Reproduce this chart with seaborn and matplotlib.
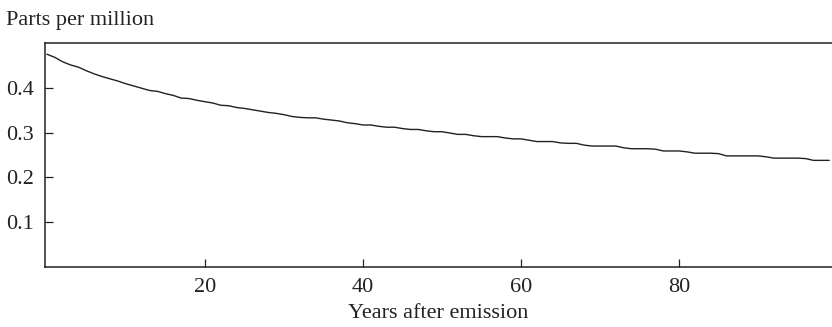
import numpy as np
import pandas as pd
import matplotlib
matplotlib.use("Agg")
import matplotlib.pyplot as plt
import seaborn as sns

# years after emission and concentration (ppm)
years = list(range(100))
ppm = [
    0.475, 0.468, 0.458, 0.451, 0.446, 0.438, 0.431, 0.425, 0.420, 0.415,
    0.409, 0.404, 0.399, 0.394, 0.392, 0.387, 0.383, 0.377, 0.376, 0.372,
    0.369, 0.366, 0.361, 0.360, 0.356, 0.354, 0.351, 0.348, 0.345, 0.343,
    0.340, 0.336, 0.334, 0.333, 0.333, 0.330, 0.328, 0.326, 0.322, 0.320,
    0.317, 0.317, 0.314, 0.312, 0.312, 0.309, 0.307, 0.307, 0.304, 0.302,
    0.302, 0.299, 0.296, 0.296, 0.293, 0.291, 0.291, 0.291, 0.288, 0.286,
    0.286, 0.283, 0.280, 0.280, 0.280, 0.277, 0.276, 0.276, 0.272, 0.270,
    0.270, 0.270, 0.270, 0.266, 0.264, 0.264, 0.264, 0.263, 0.259, 0.259,
    0.259, 0.257, 0.254, 0.254, 0.254, 0.253, 0.248, 0.248, 0.248, 0.248,
    0.248, 0.246, 0.243, 0.243, 0.243, 0.243, 0.242, 0.238, 0.238, 0.238,
]
x_ticks = [20, 40, 60, 80]
y_ticks = [0.1, 0.2, 0.3, 0.4]

sns.set_theme(style="white")
plt.rcParams['font.family'] = ['Liberation Serif', 'DejaVu Serif']

df = pd.DataFrame({"year": years, "ppm": ppm})

fig = plt.figure(figsize=(8.32, 3.27), dpi=100)
ax = fig.add_axes([0.054, 0.1835, 0.946, 0.685])

sns.lineplot(data=df, x="year", y="ppm", ax=ax, color="#222222", linewidth=1.0)

ax.set_xlim(-0.25, 99.35)
ax.set_ylim(0, 0.5)
ax.set_xticks(x_ticks)
ax.set_yticks(y_ticks)
ax.set_yticklabels([f"{v:.1f}" for v in y_ticks])

for side in ["left", "bottom", "top"]:
    ax.spines[side].set_visible(True)
    ax.spines[side].set_color("#222222")
    ax.spines[side].set_linewidth(1.1)
ax.spines["right"].set_visible(False)

ax.tick_params(axis="both", direction="in", length=6, width=0.9,
               color="#222222", labelsize=16, labelcolor="#222222")
ax.tick_params(axis="x", pad=8, bottom=True)
ax.tick_params(axis="y", pad=8, left=True)

ax.set_xlabel("Years after emission", fontsize=16, color="#222222", labelpad=5)
ax.set_ylabel("")
fig.text(0.007, 1 - 20 / 327, "Parts per million", fontsize=16,
         color="#222222", va="center", ha="left")

fig.savefig("out.png", dpi=100)
